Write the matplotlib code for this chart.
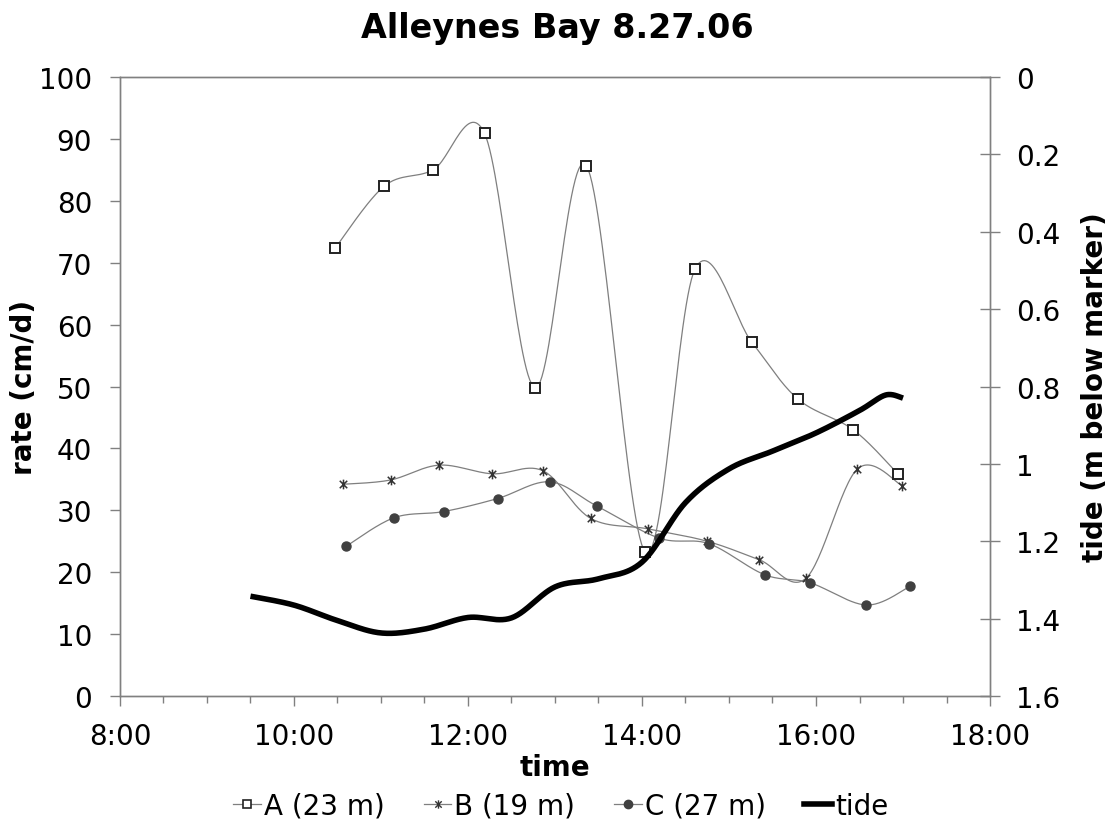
'''
Alleynes Bay 8.27.06 - sediment rate at three stakes with tide
'''

###########################################
import numpy as np
import matplotlib
matplotlib.use('Agg')
import matplotlib.pyplot as plt
from matplotlib.path import Path
from matplotlib.ticker import MultipleLocator, FuncFormatter


###########################################
# data (time in decimal hours)

timeA=[10.47,11.04,11.60,12.19,12.77,13.36,14.04,14.61,15.26,15.79,16.43,16.94]
rateA=[72.3,82.4,85.0,90.9,49.8,85.7,23.2,69.0,57.2,48.0,43.0,35.9]

timeB=[10.56,11.11,11.67,12.28,12.86,13.41,14.07,14.75,15.35,15.89,16.47,16.99]
rateB=[34.2,34.9,37.3,35.9,36.4,28.7,27.0,25.0,22.0,19.1,36.6,34.0]

timeC=[10.60,11.15,11.72,12.34,12.94,13.48,14.20,14.77,15.41,15.93,16.58,17.08]
rateC=[24.2,28.8,29.8,31.9,34.6,30.7,25.5,24.6,19.6,18.3,14.7,17.7]

timeTide=[9.5,10.0,10.5,11.0,11.5,12.0,12.5,13.0,13.5,14.0,14.5,15.0,15.5,16.0,16.5,16.8,17.0]
tide=[1.342,1.365,1.405,1.437,1.427,1.397,1.398,1.318,1.297,1.254,1.10,1.013,0.967,0.920,0.862,0.822,0.830]

labels=['A (23 m)','B (19 m)','C (27 m)','tide']


###########################################
# Excel-like smoothed line (bezier through points)

def smoothLine(x,y,sx,sy,nSeg=30):
  '''bezier smoothing in screen-like coordinates'''
  P=np.column_stack((np.asarray(x,dtype=float)*sx,np.asarray(y,dtype=float)*sy))
  n=len(P)
  out=[]
  for i in range(n-1):
    p0=P[max(i-1,0)]
    p1=P[i]
    p2=P[i+1]
    p3=P[min(i+2,n-1)]
    c1=p1+(p2-p0)/6.0
    c2=p2-(p3-p1)/6.0
    t=np.linspace(0,1,nSeg)[:,None]
    seg=((1-t)**3)*p1+3*((1-t)**2)*t*c1+3*(1-t)*(t**2)*c2+(t**3)*p2
    if(i>0):
      seg=seg[1:]
    out.append(seg)
  out=np.vstack(out)
  return out[:,0]/sx,out[:,1]/sy


###########################################
# star marker like excel (x with vertical bar)

starVerts=[(-1,-1),(1,1),(-1,1),(1,-1),(0,-1.3),(0,1.3)]
starCodes=[Path.MOVETO,Path.LINETO,Path.MOVETO,Path.LINETO,Path.MOVETO,Path.LINETO]
starMarker=Path(starVerts,starCodes)


###########################################
# the main block

if __name__ == '__main__':
  plt.rcParams['font.family']='DejaVu Sans'
  fig=plt.figure(figsize=(11.15,8.29),dpi=100)
  ax=fig.add_axes([0.1076,0.1592,0.7803,0.7467])
  ax2=ax.twinx()

  # pixel scale of the plot area
  sx=870.0/10.0
  sy=619.0/100.0
  syT=619.0/1.6

  lineCol='#7f7f7f'
  markCol='#333333'

  xs,ys=smoothLine(timeA,rateA,sx,sy)
  ax.plot(xs,ys,color=lineCol,lw=0.9,zorder=3)
  ax.plot(timeA,rateA,ls='none',marker='s',ms=6.5,mfc='white',mec='#222222',mew=1.4,zorder=4)

  xs,ys=smoothLine(timeB,rateB,sx,sy)
  ax.plot(xs,ys,color=lineCol,lw=0.9,zorder=3)
  ax.plot(timeB,rateB,ls='none',marker=starMarker,ms=7,mec=markCol,mew=1.1,zorder=4)

  xs,ys=smoothLine(timeC,rateC,sx,sy)
  ax.plot(xs,ys,color=lineCol,lw=0.9,zorder=3)
  ax.plot(timeC,rateC,ls='none',marker='o',ms=6.5,mfc='#404040',mec='#404040',zorder=4)

  xs,ys=smoothLine(timeTide,tide,sx,syT)
  ax2.plot(xs,ys,color='black',lw=4,solid_capstyle='butt',zorder=5)

  # axes
  ax.set_xlim(8,18)
  ax.set_ylim(0,100)
  ax2.set_ylim(1.6,0)
  ax.xaxis.set_major_locator(MultipleLocator(2))
  ax.xaxis.set_minor_locator(MultipleLocator(0.5))
  ax.xaxis.set_major_formatter(FuncFormatter(lambda v,p:'%d:00'%int(round(v))))
  ax.yaxis.set_major_locator(MultipleLocator(10))
  ax2.yaxis.set_major_locator(MultipleLocator(0.2))
  ax2.yaxis.set_major_formatter(FuncFormatter(lambda v,p:'0' if abs(v)<1e-9 else ('1' if abs(v-1)<1e-9 else '%g'%round(v,1))))

  for a in (ax,ax2):
    for s in a.spines.values():
      s.set_color('#808080')
      s.set_linewidth(1.0)
  ax.tick_params(axis='x',which='major',direction='out',length=7,width=1,color='#808080',pad=12,labelsize=20)
  ax.tick_params(axis='x',which='minor',direction='out',length=5,width=1,color='#808080')
  ax.tick_params(axis='y',direction='out',length=7,width=1,color='#808080',pad=13,labelsize=20)
  ax2.tick_params(axis='y',direction='inout',length=14,width=1,color='#808080',pad=12,labelsize=20)

  ax.set_xlabel('time',fontsize=20,fontweight='bold',labelpad=2)
  ax.set_ylabel('rate (cm/d)',fontsize=20,fontweight='bold',labelpad=1)
  ax2.set_ylabel('tide (m below marker)',fontsize=20,fontweight='bold',rotation=90,labelpad=15)
  fig.suptitle('Alleynes Bay 8.27.06',fontsize=24,fontweight='bold',y=0.985)

  # legend
  hA,=ax.plot([],[],color=lineCol,lw=0.9,marker='s',ms=6,mfc='white',mec='#222222',mew=1.2)
  hB,=ax.plot([],[],color=lineCol,lw=0.9,marker=starMarker,ms=6,mec=markCol,mew=1.0)
  hC,=ax.plot([],[],color=lineCol,lw=0.9,marker='o',ms=6,mfc='#404040',mec='#404040')
  hT,=ax.plot([],[],color='black',lw=4)
  fig.legend([hA,hB,hC,hT],labels,loc='center',bbox_to_anchor=(0.503,0.027),ncol=4,frameon=False,
             fontsize=20,handlelength=1.0,handletextpad=0.1,columnspacing=1.4,borderaxespad=0)

  fig.savefig('out.png',dpi=100)
  plt.close()
